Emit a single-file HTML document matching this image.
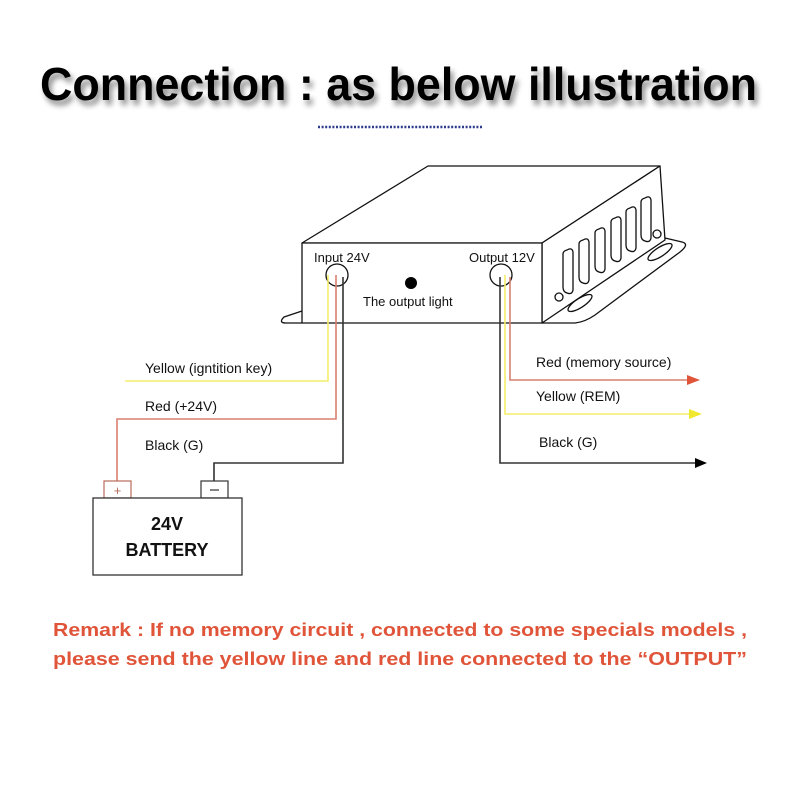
<!DOCTYPE html>
<html><head><meta charset="utf-8"><style>body{margin:0;background:#fff}svg{display:block}</style></head>
<body>
<svg width="800" height="800" viewBox="0 0 800 800" xmlns="http://www.w3.org/2000/svg" font-family="Liberation Sans, sans-serif">
<defs><filter id="sh" x="-5%" y="-30%" width="110%" height="170%"><feGaussianBlur in="SourceAlpha" stdDeviation="3"/><feOffset dx="3" dy="5"/><feComponentTransfer><feFuncA type="linear" slope="0.45"/></feComponentTransfer><feMerge><feMergeNode/><feMergeNode in="SourceGraphic"/></feMerge></filter></defs>
<rect width="800" height="800" fill="#fff"/>
<text x="40" y="100" font-size="46" font-weight="bold" textLength="717" lengthAdjust="spacingAndGlyphs" filter="url(#sh)" fill="#000">Connection : as below illustration</text>
<line x1="318" y1="127" x2="482" y2="127" stroke="#2b3a8c" stroke-width="2.5" stroke-dasharray="2 1.6"/>
<g fill="none" stroke="#111" stroke-width="1.3" stroke-linejoin="round">
<path d="M302,243 L428,166 L660,166 L542,243 Z" fill="#fff"/>
<path d="M542,243 L660,166 L665,240 L542,323 Z" fill="#fff"/>
<rect x="302" y="243" width="240" height="80" fill="#fff"/>
<path d="M302,311 L284,317 Q278,323 286,323 L302,323"/>
<path d="M542,323 L575,323 Q585,322 595,315 L680,252 Q690,244 682,242 L665,238"/>
<path d="M567,250 q5,-3 6,2 l0,38 q-1,5 -6,3 q-4,-1 -4,-6 l0,-33 q0,-3 4,-4z"/>
<path d="M583,240 q5,-3 6,2 l0,38 q-1,5 -6,3 q-4,-1 -4,-6 l0,-33 q0,-3 4,-4z"/>
<path d="M599,229 q5,-3 6,2 l0,38 q-1,5 -6,3 q-4,-1 -4,-6 l0,-33 q0,-3 4,-4z"/>
<path d="M615,218 q5,-3 6,2 l0,38 q-1,5 -6,3 q-4,-1 -4,-6 l0,-33 q0,-3 4,-4z"/>
<path d="M630,208 q5,-3 6,2 l0,38 q-1,5 -6,3 q-4,-1 -4,-6 l0,-33 q0,-3 4,-4z"/>
<path d="M645,198 q5,-3 6,2 l0,38 q-1,5 -6,3 q-4,-1 -4,-6 l0,-33 q0,-3 4,-4z"/>
<circle cx="559" cy="297" r="4"/>
<circle cx="657" cy="234" r="4"/>
<ellipse cx="580" cy="303" rx="14" ry="4.5" transform="rotate(-33 580 303)"/>
<ellipse cx="660" cy="252" rx="14" ry="4.5" transform="rotate(-33 660 252)"/>
<circle cx="337" cy="275" r="11" fill="#fff"/>
<circle cx="501" cy="275" r="11" fill="#fff"/>
</g>
<circle cx="411" cy="283" r="6" fill="#000"/>
<g font-size="13" fill="#111">
<text x="314" y="262">Input 24V</text>
<text x="469" y="262">Output 12V</text>
<text x="363" y="306">The output light</text>
</g>
<g fill="none" stroke-width="1.6">
<path d="M328,275 V381 H125" stroke="#f3ee6a"/>
<path d="M336,275 V419 H117 V483" stroke="#d9806f"/>
<path d="M343,277 V463 H214 V482" stroke="#333"/>
<path d="M500,277 V463 H698" stroke="#333"/>
<path d="M505,275 V414 H690" stroke="#f3ee6a"/>
<path d="M510,277 V380 H688" stroke="#d9806f"/>
</g>
<path d="M687,375 L700,380 L687,385Z" fill="#e0553a"/>
<path d="M689,409 L702,414 L689,419Z" fill="#f0e830"/>
<path d="M695,458 L707,463 L695,468Z" fill="#000"/>
<g font-size="14" fill="#111">
<text x="145" y="373">Yellow (igntition key)</text>
<text x="145" y="411">Red (+24V)</text>
<text x="145" y="450">Black (G)</text>
<text x="536" y="367">Red (memory source)</text>
<text x="536" y="401">Yellow (REM)</text>
<text x="539" y="447">Black (G)</text>
</g>
<rect x="104" y="481" width="27" height="17" fill="#fff" stroke="#b86a5a" stroke-width="1.2"/>
<text x="117.5" y="495" font-size="13" fill="#b86a5a" text-anchor="middle">+</text>
<rect x="201" y="481" width="27" height="17" fill="#fff" stroke="#333" stroke-width="1.2"/>
<line x1="210" y1="490" x2="219" y2="490" stroke="#333" stroke-width="1.2"/>
<rect x="93" y="498" width="149" height="77" fill="#fff" stroke="#333" stroke-width="1.3"/>
<text x="167" y="530" font-size="18" font-weight="bold" fill="#111" text-anchor="middle">24V</text>
<text x="167" y="556" font-size="18" font-weight="bold" fill="#111" text-anchor="middle">BATTERY</text>
<g font-size="18" fill="#e0553a" text-anchor="middle" font-weight="bold">
<text x="400" y="636" textLength="694" lengthAdjust="spacingAndGlyphs">Remark : If no memory circuit , connected to some specials models ,</text>
<text x="400" y="665" textLength="694" lengthAdjust="spacingAndGlyphs">please send the yellow line and red line connected to the “OUTPUT”</text>
</g>
</svg>
</body></html>
